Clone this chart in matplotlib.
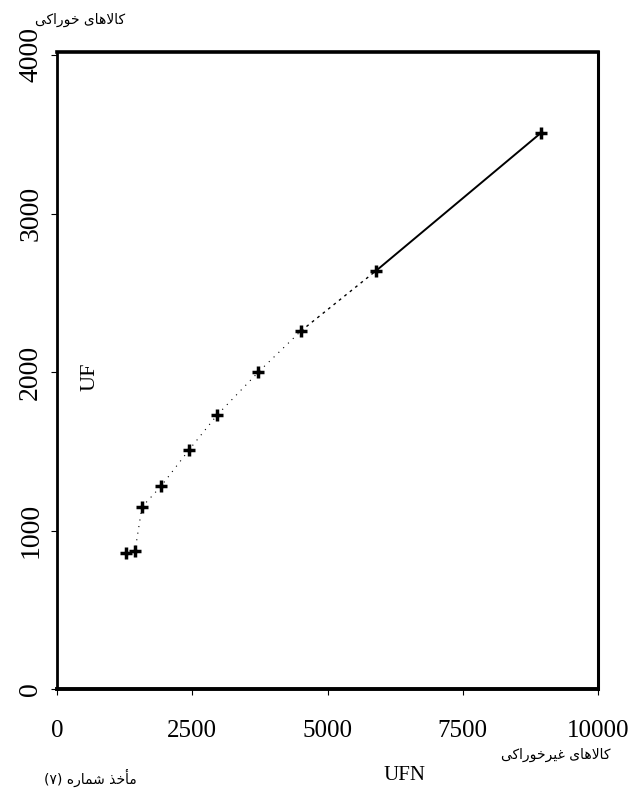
import matplotlib
matplotlib.use("Agg")
import matplotlib.pyplot as plt

# ---------------- data ----------------
ufn = [1280, 1440, 1570, 1920, 2440, 2960, 3720, 4510, 5900, 8950]
uf = [860, 870, 1150, 1280, 1510, 1730, 2000, 2260, 2640, 3510]
x_ticks = [0, 2500, 5000, 7500, 10000]
x_ticklabels = ["0", "2500", "5000", "7500", "10000"]
y_ticks = [0, 1000, 2000, 3000, 4000]
y_ticklabels = ["0", "1000", "2000", "3000", "4000"]
y_title_fa = "کالاهای خوراکی"
x_title_fa = "کالاهای غیرخوراکی"
source_fa = "مأخذ شماره (۷)"
x_label = "UFN"
y_label = "UF"

# ------------- minimal Persian shaping (presentation forms + RTL) -------------
FORMS = {
    'ا': ('\uFE8D', '\uFE8E', None, None),
    'أ': ('\uFE83', '\uFE84', None, None),
    'ل': ('\uFEDD', '\uFEDE', '\uFEDF', '\uFEE0'),
    'ه': ('\uFEE9', '\uFEEA', '\uFEEB', '\uFEEC'),
    'ی': ('\uFBFC', '\uFBFD', '\uFBFE', '\uFBFF'),
    'ک': ('\uFB8E', '\uFB8F', '\uFB90', '\uFB91'),
    'خ': ('\uFEA5', '\uFEA6', '\uFEA7', '\uFEA8'),
    'و': ('\uFEED', '\uFEEE', None, None),
    'ر': ('\uFEAD', '\uFEAE', None, None),
    'غ': ('\uFECD', '\uFECE', '\uFECF', '\uFED0'),
    'م': ('\uFEE1', '\uFEE2', '\uFEE3', '\uFEE4'),
    'ذ': ('\uFEAB', '\uFEAC', None, None),
    'ش': ('\uFEB5', '\uFEB6', '\uFEB7', '\uFEB8'),
}
LAM_ALEF = {'ا': ('\uFEFB', '\uFEFC'), 'أ': ('\uFEF7', '\uFEF8')}


def shape_fa(text):
    chars = list(text)
    n = len(chars)
    out = []
    prev_conn = False
    i = 0
    while i < n:
        c = chars[i]
        if c not in FORMS:
            out.append(c)
            prev_conn = False
            i += 1
            continue
        if c == 'ل' and i + 1 < n and chars[i + 1] in LAM_ALEF:
            iso, fin = LAM_ALEF[chars[i + 1]]
            out.append(fin if prev_conn else iso)
            prev_conn = False
            i += 2
            continue
        nxt = chars[i + 1] if i + 1 < n else None
        dual = FORMS[c][2] is not None
        next_conn = dual and nxt is not None and nxt in FORMS
        iso, fin, ini, med = FORMS[c]
        if prev_conn and next_conn:
            g = med
        elif prev_conn:
            g = fin
        elif next_conn:
            g = ini
        else:
            g = iso
        out.append(g)
        prev_conn = next_conn
        i += 1
    vis = ''.join(reversed(out))
    return vis.translate(str.maketrans('()', ')('))


FA_FONT = ['DejaVu Sans', 'Noto Sans']
SERIF = ['Liberation Serif', 'DejaVu Serif']

# ---------------- figure ----------------
fig = plt.figure(figsize=(6.41, 7.96), dpi=100)
ax = fig.add_axes([0.089, 0.134, 0.844, 0.801])

ax.plot(ufn[:8], uf[:8], color='black', lw=0.8, ls=(0, (1, 5)))
ax.plot(ufn[7:9], uf[7:9], color='black', lw=1.0, ls=(0, (2, 3)))
ax.plot(ufn[8:], uf[8:], color='black', lw=1.4, ls='-')
ax.plot(ufn, uf, ls='none', marker='+', ms=9, mew=2.5, color='black')

ax.set_xlim(0, 10000)
ax.set_ylim(0, 4020)
ax.set_xticks(x_ticks)
ax.set_xticklabels(x_ticklabels, fontfamily=SERIF, fontsize=18)
ax.set_yticks(y_ticks)
ax.set_yticklabels(y_ticklabels, fontfamily=SERIF, fontsize=20,
                   rotation=90, va='center')
ax.tick_params(axis='x', length=4, width=0.8, pad=18)
ax.tick_params(axis='y', length=4, width=0.8, pad=6)

for side, lw in [('left', 2.0), ('right', 2.2), ('top', 2.6), ('bottom', 2.8)]:
    ax.spines[side].set_linewidth(lw)
    ax.spines[side].set_color('black')

# axis titles
ax.text(0.06, 0.49, y_label, transform=ax.transAxes, rotation=90,
        fontfamily=SERIF, fontsize=16, ha='center', va='center')
fig.text(405 / 641, 1 - 775 / 796, x_label, fontfamily=SERIF, fontsize=15,
         ha='center', va='center')

# Persian annotations
fig.text(80 / 641, 1 - 20 / 796, shape_fa(y_title_fa), fontfamily=FA_FONT,
         fontsize=10, ha='center', va='center')
fig.text(556 / 641, 1 - 755 / 796, shape_fa(x_title_fa), fontfamily=FA_FONT,
         fontsize=10, ha='center', va='center')
fig.text(90 / 641, 1 - 778 / 796, shape_fa(source_fa), fontfamily=FA_FONT,
         fontsize=10, ha='center', va='center')

fig.savefig('out.png', dpi=100, facecolor='white')
